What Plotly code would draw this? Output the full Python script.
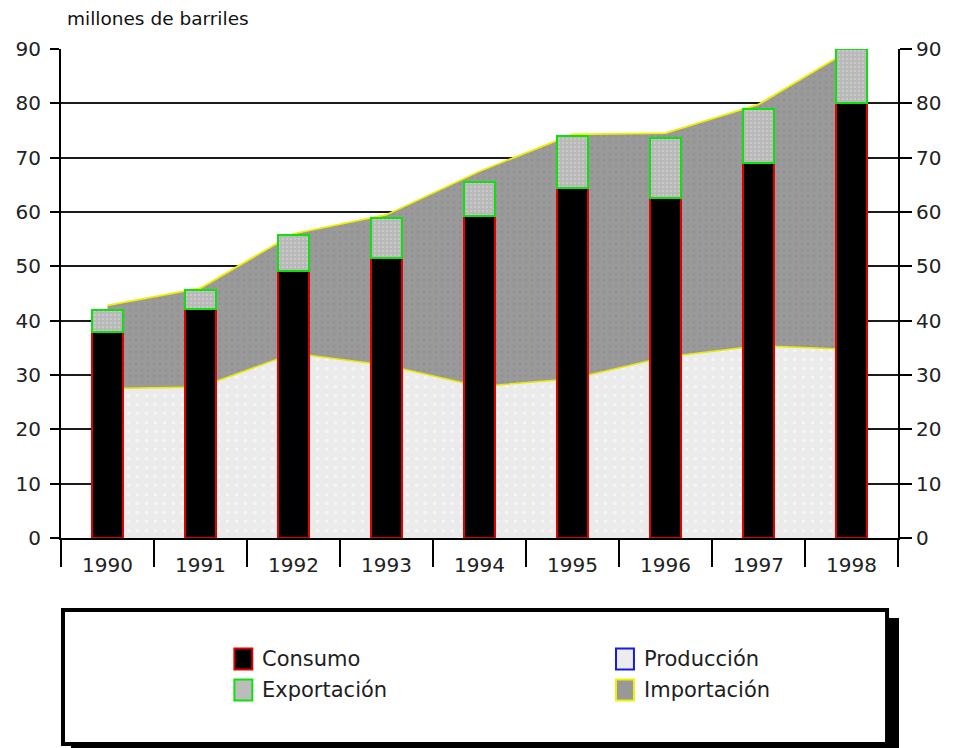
import plotly.graph_objects as go

# Balance de petróleo, millones de barriles por año
years = ["1990", "1991", "1992", "1993", "1994", "1995", "1996", "1997", "1998"]
consumo = [38.0, 42.2, 49.1, 51.5, 59.3, 64.4, 62.6, 69.0, 80.0]
exportacion = [4.0, 3.4, 6.7, 7.4, 6.2, 9.6, 11.0, 10.0, 10.0]
produccion = [27.5, 27.8, 34.0, 31.8, 27.9, 29.3, 33.3, 35.4, 34.7]
importacion = [15.3, 18.2, 22.0, 27.7, 39.6, 45.0, 41.2, 44.4, 55.3]
y_ticks = [0, 10, 20, 30, 40, 50, 60, 70, 80, 90]

FONT = "DejaVu Sans"
W, H = 953, 748
L, R, T, B = 61, 52, 49, 210
PW, PH = W - L - R, H - T - B

xs = list(range(len(years)))


def px_x(p):
    return (p - L) / PW


def px_y(p):
    return (H - B - p) / PH


fig = go.Figure()

# Stacked areas: producción + importación (main subplot, drawn underneath)
fig.add_trace(go.Scatter(
    x=xs, y=produccion, stackgroup="oferta", mode="lines",
    line=dict(color="#e8e800", width=1.5),
    fillcolor="#ebebeb",
    fillpattern=dict(shape=".", bgcolor="#ebebeb", fgcolor="#ffffff",
                     size=9, solidity=0.12),
    name="Producción", showlegend=False, hoverinfo="skip",
))
fig.add_trace(go.Scatter(
    x=xs, y=importacion, stackgroup="oferta", mode="lines",
    line=dict(color="#f0f000", width=1.8),
    fillcolor="#999999",
    fillpattern=dict(shape=".", bgcolor="#9a9a9a", fgcolor="#8a8a8a",
                     size=6, solidity=0.2),
    name="Importación", showlegend=False, hoverinfo="skip",
))

# Stacked bars: consumo + exportación, on the right-hand overlay axis so
# they sit on top of the areas
fig.add_trace(go.Bar(
    x=xs, y=consumo, width=0.33, name="Consumo", yaxis="y2",
    marker=dict(color="#000000", line=dict(color="#e00000", width=1.5)),
    showlegend=False, hoverinfo="skip",
))
fig.add_trace(go.Bar(
    x=xs, y=exportacion, width=0.33, name="Exportación", yaxis="y2",
    marker=dict(color="#bcbcbc", line=dict(color="#10e010", width=2),
                pattern=dict(shape=".", bgcolor="#b8b8b8", fgcolor="#d8d8d8",
                             size=4, solidity=0.3)),
    showlegend=False, hoverinfo="skip",
))

tick_font = dict(family=FONT, size=20, color="#222222")

fig.update_layout(
    width=W, height=H,
    margin=dict(l=L, r=R, t=T, b=B),
    paper_bgcolor="white", plot_bgcolor="white",
    barmode="stack", showlegend=False,
    title=dict(text="millones de barriles", x=67 / W,
               xanchor="left", y=1 - 19 / H, yanchor="middle",
               font=dict(family=FONT, size=18.5, color="#111111")),
    xaxis=dict(
        range=[-0.5, 8.5], tickmode="array", tickvals=xs, ticktext=years,
        ticks="outside", ticklen=8, tickcolor="rgba(0,0,0,0)",
        showgrid=False, zeroline=False, showline=True,
        linecolor="#000000", linewidth=2, tickfont=tick_font,
        minor=dict(tickmode="array", tickvals=[i - 0.5 for i in range(len(years) + 1)],
                   ticks="outside", ticklen=27, tickcolor="#000000", tickwidth=2,
                   showgrid=False),
    ),
    yaxis=dict(
        range=[0, 90], tickmode="array", tickvals=y_ticks,
        ticks="outside", ticklen=9, tickcolor="#000000", tickwidth=2,
        ticklabelstandoff=5,
        showgrid=True, gridcolor="#1a1a1a", gridwidth=1.5,
        zeroline=False, showline=True, linecolor="#000000", linewidth=2,
        tickfont=tick_font,
    ),
    yaxis2=dict(
        range=[0, 90], tickmode="array", tickvals=y_ticks, overlaying="y",
        side="right", ticks="outside", ticklen=12, tickcolor="#000000",
        tickwidth=2, showgrid=False, zeroline=False, showline=True,
        linecolor="#000000", linewidth=2, tickfont=tick_font,
    ),
)

# Legend panel with drop shadow
shapes = [
    dict(type="rect", xref="paper", yref="paper",
         x0=px_x(71), x1=px_x(902), y0=px_y(618), y1=px_y(756),
         fillcolor="#000000", line=dict(width=0), layer="above"),
    dict(type="rect", xref="paper", yref="paper",
         x0=px_x(63), x1=px_x(890), y0=px_y(610), y1=px_y(744),
         fillcolor="#ffffff", line=dict(color="#000000", width=4), layer="above"),
]

legend_items = [
    ("Consumo", 235, 659, "#000000", "#e00000"),
    ("Exportación", 235, 690, "#bcbcbc", "#10e010"),
    ("Producción", 618, 659, "#ececec", "#1a1ae0"),
    ("Importación", 618, 690, "#989898", "#f0f000"),
]
annotations = []
for label, sx, cy, fill, edge in legend_items:
    shapes.append(dict(type="rect", xref="paper", yref="paper",
                       x0=px_x(sx), x1=px_x(sx + 18),
                       y0=px_y(cy + 10.5), y1=px_y(cy - 10.5),
                       fillcolor=fill, line=dict(color=edge, width=2),
                       layer="above"))
    annotations.append(dict(text=label, xref="paper", yref="paper",
                            x=px_x(sx + 26), y=px_y(cy), xanchor="left",
                            yanchor="middle", showarrow=False,
                            font=dict(family=FONT, size=21, color="#1e1e1e")))

fig.update_layout(shapes=shapes, annotations=annotations)

fig.write_html("out.html")
